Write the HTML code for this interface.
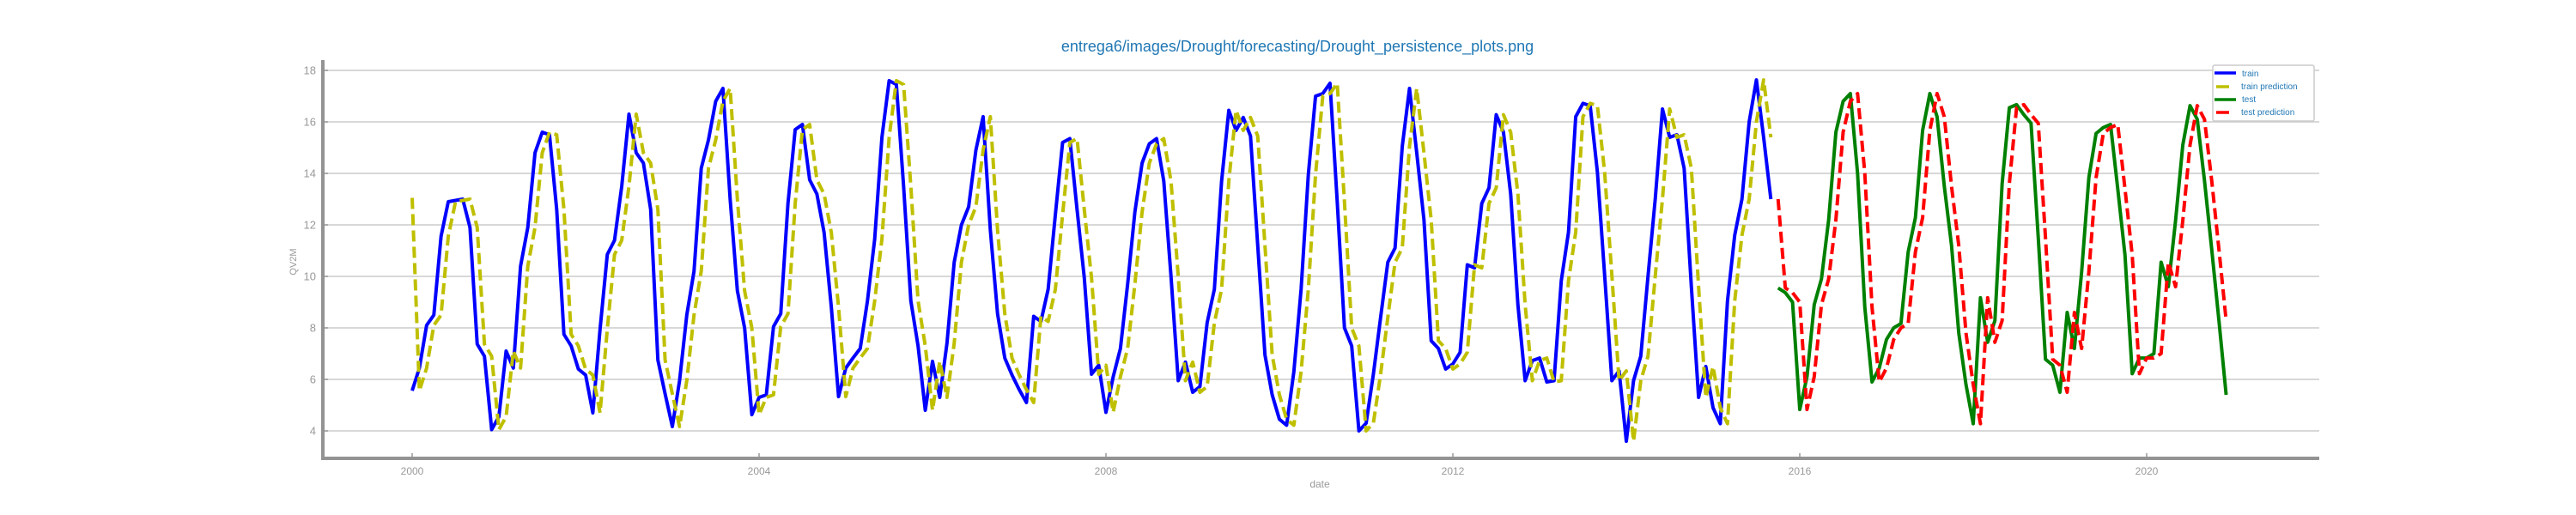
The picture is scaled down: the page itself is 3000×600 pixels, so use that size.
<!DOCTYPE html>
<html><head><meta charset="utf-8"><style>
body{margin:0;background:#fff}
svg{display:block}
text{font-family:"Liberation Sans","DejaVu Sans",sans-serif}
</style></head><body>
<svg id="chart" width="3000" height="600" xmlns="http://www.w3.org/2000/svg">
<text x="1511" y="60" text-anchor="middle" font-size="18" fill="#1f77b4">entrega6/images/Drought/forecasting/Drought_persistence_plots.png</text>
<g id="grid"></g>
<g id="series"></g>
<g id="axes"></g>
<text transform="translate(345,305) rotate(-90)" text-anchor="middle" font-size="11" fill="#999">QV2M</text>
<text x="1537" y="568" text-anchor="middle" font-size="12" fill="#999">date</text>
<g>
<rect x="2577" y="76" width="118" height="65" fill="#fff" stroke="#ccc" stroke-width="1.5" rx="2"/>
<line x1="2579" y1="85" x2="2604" y2="85" stroke="#0000ff" stroke-width="3.5"/>
<text x="2611" y="89" font-size="10" fill="#1f77b4">train</text>
<line x1="2581" y1="101" x2="2596" y2="101" stroke="#bfbf00" stroke-width="3.5"/>
<text x="2610" y="104" font-size="10" fill="#1f77b4">train prediction</text>
<line x1="2579" y1="116" x2="2604" y2="116" stroke="#008000" stroke-width="3.5"/>
<text x="2611" y="119" font-size="10" fill="#1f77b4">test</text>
<line x1="2581" y1="131" x2="2596" y2="131" stroke="#ff0000" stroke-width="3.5"/>
<text x="2610" y="134" font-size="10" fill="#1f77b4">test prediction</text>
</g>
</svg>
<script>
const yTicks=[4,6,8,10,12,14,16,18];
const xTickYears=[2000,2004,2008,2012,2016,2020];
const trainStart=0; // month index from 2000-01
const train=[5.56,6.44,8.1,8.5,11.56,12.9,12.95,13.0,11.9,7.37,6.9,4.05,4.55,7.1,6.44,10.4,11.9,14.8,15.6,15.5,12.6,7.75,7.3,6.4,6.17,4.7,7.95,10.85,11.4,13.5,16.3,14.8,14.4,12.6,6.75,5.44,4.17,5.95,8.5,10.2,14.2,15.3,16.8,17.3,13.0,9.44,8.0,4.63,5.3,5.4,8.05,8.55,12.83,15.7,15.9,13.75,13.2,11.7,8.8,5.33,6.44,6.83,7.2,9.05,11.45,15.4,17.6,17.45,13.5,9.05,7.3,4.8,6.7,5.3,7.4,10.55,12.0,12.7,14.9,16.2,11.8,8.55,6.83,6.17,5.6,5.1,8.45,8.25,9.5,12.4,15.2,15.35,12.6,9.95,6.2,6.55,4.72,6.1,7.2,9.7,12.5,14.4,15.15,15.35,13.7,10.0,5.95,6.67,5.5,5.72,8.2,9.5,13.7,16.45,15.67,16.17,15.45,11.2,6.95,5.4,4.45,4.22,6.3,9.5,13.95,17.0,17.1,17.5,12.9,8.0,7.3,4.0,4.3,6.2,8.4,10.55,11.1,15.05,17.3,14.8,12.2,7.5,7.2,6.4,6.6,7.05,10.45,10.33,12.83,13.44,16.28,15.6,13.2,8.9,5.95,6.73,6.83,5.9,5.95,9.83,11.72,16.2,16.72,16.63,14.05,10.05,5.95,6.33,3.6,5.95,6.9,10.0,13.0,16.5,15.4,15.5,14.2,9.6,5.3,6.5,4.9,4.28,9.05,11.6,13.0,16.0,17.63,15.4,13.0];
const trainPred=[13.05,5.56,6.44,8.1,8.5,11.56,12.9,12.95,13.0,11.9,7.37,6.9,4.05,4.55,7.1,6.44,10.4,11.9,14.8,15.6,15.5,12.6,7.75,7.3,6.4,6.17,4.7,7.95,10.85,11.4,13.5,16.3,14.8,14.4,12.6,6.75,5.44,4.17,5.95,8.5,10.2,14.2,15.3,16.8,17.3,13.0,9.44,8.0,4.63,5.3,5.4,8.05,8.55,12.83,15.7,15.9,13.75,13.2,11.7,8.8,5.33,6.44,6.83,7.2,9.05,11.45,15.4,17.6,17.45,13.5,9.05,7.3,4.8,6.7,5.3,7.4,10.55,12.0,12.7,14.9,16.2,11.8,8.55,6.83,6.17,5.6,5.1,8.45,8.25,9.5,12.4,15.2,15.35,12.6,9.95,6.2,6.55,4.72,6.1,7.2,9.7,12.5,14.4,15.15,15.35,13.7,10.0,5.95,6.67,5.5,5.72,8.2,9.5,13.7,16.45,15.67,16.17,15.45,11.2,6.95,5.4,4.45,4.22,6.3,9.5,13.95,17.0,17.1,17.5,12.9,8.0,7.3,4.0,4.3,6.2,8.4,10.55,11.1,15.05,17.3,14.8,12.2,7.5,7.2,6.4,6.6,7.05,10.45,10.33,12.83,13.44,16.28,15.6,13.2,8.9,5.95,6.73,6.83,5.9,5.95,9.83,11.72,16.2,16.72,16.63,14.05,10.05,5.95,6.33,3.6,5.95,6.9,10.0,13.0,16.5,15.4,15.5,14.2,9.6,5.3,6.5,4.9,4.28,9.05,11.6,13.0,16.0,17.63,15.4];
const testStart=189;
const test=[9.55,9.37,9.0,4.83,6.1,8.9,9.9,12.2,15.6,16.8,17.1,14.0,8.8,5.9,6.44,7.55,8.0,8.17,10.95,12.28,15.67,17.1,16.2,13.5,11.2,7.8,5.8,4.28,9.17,7.44,8.28,13.6,16.55,16.67,16.28,15.95,11.5,6.78,6.55,5.5,8.6,7.2,10.17,13.83,15.55,15.78,15.9,13.4,10.83,6.22,6.83,6.83,7.0,10.55,9.6,12.17,15.1,16.63,16.1,13.72,11.05,8.28,5.4];
const testPred=[13.0,9.55,9.37,9.0,4.83,6.1,8.9,9.9,12.2,15.6,16.8,17.1,14.0,8.8,5.9,6.44,7.55,8.0,8.17,10.95,12.28,15.67,17.1,16.2,13.5,11.2,7.8,5.8,4.28,9.17,7.44,8.28,13.6,16.55,16.67,16.28,15.95,11.5,6.78,6.55,5.5,8.6,7.2,10.17,13.83,15.55,15.78,15.9,13.4,10.83,6.22,6.83,6.83,7.0,10.55,9.6,12.17,15.1,16.63,16.1,13.72,11.05,8.28];

const NS="http://www.w3.org/2000/svg";
const xM=m=>480+m*(2020/240);
const xY=yr=>480+(yr-2000)*101;
const y=v=>502-(v-4)*30;
const L=376,R=2701,B=534,T=70;
const grid=document.getElementById('grid'),axes=document.getElementById('axes'),ser=document.getElementById('series');
function mk(tag,attrs,parent){const e=document.createElementNS(NS,tag);for(const k in attrs)e.setAttribute(k,attrs[k]);parent.appendChild(e);return e;}
yTicks.forEach(t=>{
  const g=mk('line',{x1:L,x2:R,y1:y(t),y2:y(t),stroke:'#cccccc','stroke-width':1.5},grid);
  
  
  const tk=mk('line',{x1:L,x2:L+6,y1:y(t),y2:y(t),stroke:'#999','stroke-width':1.5},axes);
  
  
  const tx=mk('text',{x:368,y:y(t)+4.5,'text-anchor':'end','font-size':13,fill:'#999'},axes);
  
  
  tx.textContent=t;
});
xTickYears.forEach(yr=>{
  const tk=mk('line',{x1:xY(yr),x2:xY(yr),y1:B-6,y2:B,stroke:'#999','stroke-width':1.5},axes);
  
  
  const tx=mk('text',{x:xY(yr),y:553,'text-anchor':'middle','font-size':12,fill:'#999'},axes);
  
  
  tx.textContent=yr;
});
const ls=mk('line',{x1:L,x2:L,y1:T,y2:B+2,stroke:'#939393','stroke-width':4},axes);


const bs=mk('line',{x1:L-2,x2:R,y1:B,y2:B,stroke:'#939393','stroke-width':4},axes);


function line(vals,start,color,dash,name){
  const d=vals.map((v,i)=>(i?'L':'M')+xM(start+i).toFixed(2)+','+y(v).toFixed(2)).join('');
  const p=mk('path',{d:d,fill:'none',stroke:color,'stroke-width':4,'stroke-linejoin':'round'},ser);
  if(dash)p.setAttribute('stroke-dasharray',dash);
  
  
}
line(train,trainStart,'#0000ff',null,'train-line');
line(trainPred,trainStart,'#bfbf00','13,6','train-prediction-line');
line(test,testStart,'#008000',null,'test-line');
line(testPred,testStart,'#ff0000','13,6','test-prediction-line');
</script>
</body></html>
